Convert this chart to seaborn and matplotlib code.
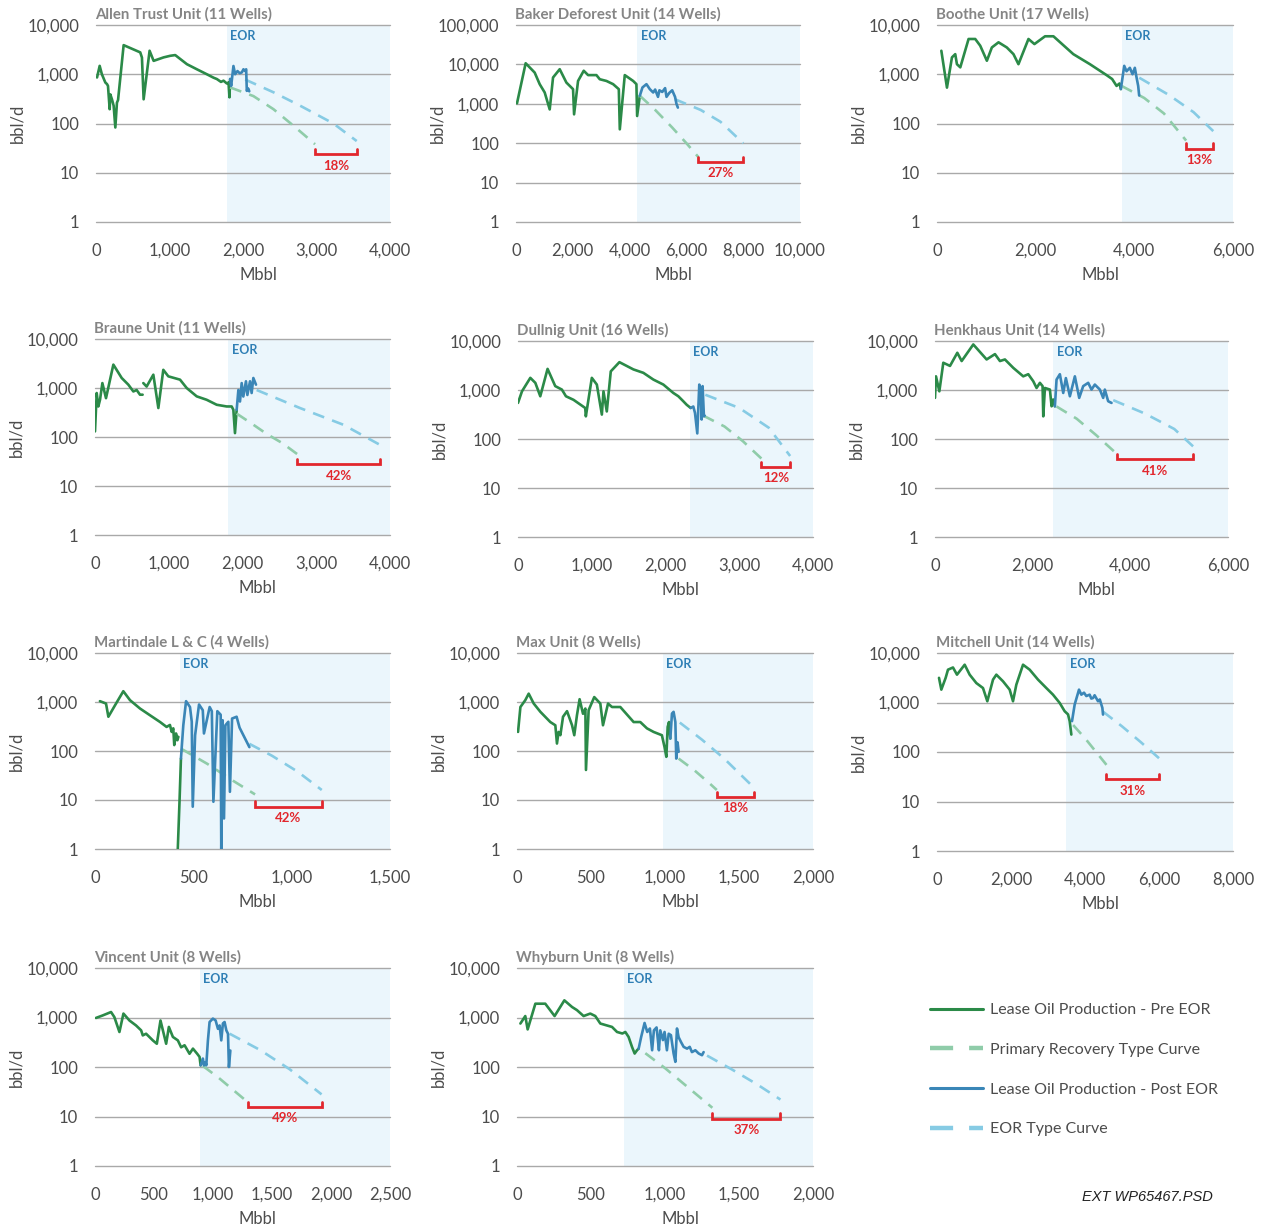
import numpy as np
import pandas as pd
import matplotlib
matplotlib.use("Agg")
import matplotlib.pyplot as plt
import seaborn as sns
from matplotlib.lines import Line2D
from matplotlib.ticker import NullLocator

sns.set_theme(style="white")
plt.rcParams['font.family'] = ['Lato', 'DejaVu Sans']

# ---------------------------------------------------------------- data
TITLES = ["Allen Trust Unit (11 Wells)", "Baker Deforest Unit (14 Wells)", "Boothe Unit (17 Wells)",
          "Braune Unit (11 Wells)", "Dullnig Unit (16 Wells)", "Henkhaus Unit (14 Wells)",
          "Martindale L & C (4 Wells)", "Max Unit (8 Wells)", "Mitchell Unit (14 Wells)",
          "Vincent Unit (8 Wells)", "Whyburn Unit (8 Wells)"]
X_MAX = [4000, 10000, 6000, 4000, 4000, 6000, 1500, 2000, 8000, 2500, 2000]
X_STEP = [1000, 2000, 2000, 1000, 1000, 2000, 500, 500, 2000, 500, 500]
Y_MAX = [1e4, 1e5, 1e4, 1e4, 1e4, 1e4, 1e4, 1e4, 1e4, 1e4, 1e4]
EOR_START = [1780, 4265, 3741, 1808, 2332, 2421, 432, 986, 3496, 886, 721]
UPLIFT = ["18%", "27%", "13%", "42%", "12%", "41%", "42%", "18%", "31%", "49%", "37%"]
BRACKET_Y = [23.6, 34, 31, 28, 27, 39, 7.3, 11.6, 28, 15.6, 9.1]

# (cumulative Mbbl, bbl/d); None breaks a line
ALLEN_PRE = [(14, 860), (50, 1480), (80, 1000), (127, 680), (150, 630), (163, 580), (186, 195), (195, 390),
             (217, 310), (240, 230), (263, 83), (285, 265), (300, 300), (376, 3900), (602, 2780), (625, 2180),
             (648, 310), (729, 3000), (784, 1870), (920, 2200), (1010, 2370), (1078, 2450), (1237, 1600),
             (1373, 1260), (1508, 1000), (1600, 850), (1644, 800), (1700, 700), (1735, 740), (1780, 650),
             (1803, 680), (1816, 340), (1825, 800)]
ALLEN_POST = [(1825, 800), (1839, 580), (1870, 1470), (1893, 1000), (1925, 1160), (1955, 1050), (1984, 1090),
              (2006, 1260), (2030, 1160), (2043, 1260), (2052, 460), (2065, 520), (2075, 500), (2085, 450)]
ALLEN_PRIMARY = [(1825, 540), (2142, 360), (2415, 195), (2687, 90), (2980, 38)]
ALLEN_EOR_TC = [(2030, 780), (2415, 430), (2777, 230), (3230, 100), (3547, 44)]

BAKER_PRE = [(35, 1030), (340, 10700), (658, 6200), (834, 3150), (1010, 1940), (1187, 720), (1304, 4650),
             (1539, 7550), (1774, 3460), (2009, 2350), (2045, 540), (2185, 3800), (2385, 6900), (2538, 5350),
             (2832, 5350), (2950, 4200), (3185, 3800), (3420, 3150), (3620, 2350), (3655, 225), (3830, 5350),
             (4125, 3800), (4240, 3150), (4265, 490), (4360, 1600)]
BAKER_POST = [(4360, 1600), (4453, 2600), (4594, 3150), (4712, 2350), (4830, 1940), (4900, 2300), (5000, 1500),
              (5050, 2200), (5150, 2000), (5250, 2500), (5300, 1500), (5400, 1900), (5500, 2200), (5600, 1500),
              (5650, 1000), (5700, 800)]
BAKER_PRIMARY = [(4360, 1600), (4900, 700), (5500, 250), (6000, 100), (6415, 45)]
BAKER_EOR_TC = [(5600, 1300), (6500, 700), (7200, 350), (8000, 100)]

BOOTHE_PRE = [(88, 3000), (202, 535), (303, 2200), (370, 2560), (404, 1600), (472, 1380), (640, 5200),
              (775, 5200), (876, 3800), (1011, 1880), (1112, 3500), (1247, 4450), (1415, 3500), (1550, 2560),
              (1651, 1600), (1719, 2380), (1854, 5200), (1975, 4100), (2190, 5900), (2360, 5900), (2763, 2560),
              (3100, 1600), (3437, 960), (3550, 800), (3640, 580), (3700, 650), (3727, 500)]
BOOTHE_POST = [(3727, 500), (3795, 1480), (3842, 1150), (3909, 1350), (3963, 1000), (4010, 1350), (4044, 870),
               (4078, 580), (4098, 370)]
BOOTHE_PRIMARY = [(3740, 580), (4200, 330), (4600, 160), (5050, 45)]
BOOTHE_EOR_TC = [(4100, 850), (4700, 380), (5200, 170), (5600, 70)]

BRAUNE_PRE = [(0, 130), (23, 790), (45, 420), (68, 575), (100, 1260), (149, 620), (249, 3000), (362, 1600),
              (452, 1170), (520, 850), (565, 910), (610, 730), (646, 730), None,
              (655, 1260), (700, 1070), (791, 1870), (859, 390), (926, 2350), (994, 1730), (1153, 1480),
              (1243, 1000), (1379, 675), (1514, 575), (1650, 455), (1785, 420), (1853, 420), (1876, 360),
              (1898, 120), (1921, 360)]
BRAUNE_POST = [(1921, 360), (1944, 910), (1966, 530), (1989, 1260), (2011, 670), (2047, 1370), (2066, 720),
               (2102, 1370), (2124, 790), (2147, 1600), (2183, 1170)]
BRAUNE_PRIMARY = [(1921, 300), (2120, 190), (2330, 115), (2540, 75), (2740, 45)]
BRAUNE_EOR_TC = [(2192, 910), (2780, 390), (3367, 178), (3865, 69)]

DULLNIG_PRE = [(0, 545), (54, 940), (167, 1770), (235, 1400), (302, 745), (401, 2700), (505, 1200), (595, 1020),
               (650, 745), (753, 630), (911, 430), (920, 290), (1001, 1770), (1069, 1290), (1137, 315),
               (1159, 940), (1204, 365), (1258, 2400), (1375, 3700), (1565, 2630), (1700, 2240), (1836, 1630),
               (1971, 1290), (2106, 870), (2174, 745), (2241, 590), (2287, 500), (2341, 430)]
DULLNIG_POST = [(2341, 430), (2377, 460), (2400, 340), (2431, 130), (2458, 1290), (2476, 1000), (2490, 250),
                (2503, 1200), (2521, 290), (2530, 300)]
DULLNIG_PRIMARY = [(2512, 300), (2800, 180), (3050, 90), (3300, 40)]
DULLNIG_EOR_TC = [(2540, 800), (3000, 430), (3400, 170), (3690, 45)]

HENKHAUS_PRE = [(0, 690), (20, 1900), (89, 940), (170, 3600), (307, 3100), (457, 5750), (546, 3900),
                (784, 8500), (1057, 4200), (1228, 5400), (1330, 3900), (1432, 4200), (1603, 2830), (1807, 1900),
                (1910, 2100), (2012, 1510), (2080, 1100), (2148, 1400), (2203, 1200), (2217, 290), (2251, 1100),
                (2353, 1020), (2387, 465), (2421, 640), (2455, 465)]
HENKHAUS_POST = [(2455, 465), (2489, 1630), (2557, 2100), (2626, 870), (2680, 1750), (2762, 745), (2864, 1900),
                 (2953, 690), (3035, 1200), (3137, 1400), (3205, 1020), (3273, 1290), (3376, 1020), (3444, 690),
                 (3478, 1020), (3546, 590), (3615, 545)]
HENKHAUS_PRIMARY = [(2490, 460), (2900, 260), (3300, 120), (3720, 50)]
HENKHAUS_EOR_TC = [(3650, 620), (4300, 330), (4900, 160), (5290, 70)]

MARTINDALE_PRE = [(25, 1040), (56, 930), (68, 500), (102, 860), (144, 1660), (178, 1090), (229, 735), (280, 535),
                  (331, 390), (364, 310), (381, 340), (390, 245), (398, 290), (403, 132), (412, 228), (419, 166),
                  (424, 195), None, (421, 1), (430, 10), (437, 70)]
MARTINDALE_POST = [(437, 70), (449, 335), (463, 1040), (483, 790), (492, 395), (497, 7.3), (509, 210), (529, 890),
                   (548, 680), (554, 228), (583, 790), (594, 650), (602, 9.2), (622, 650), (639, 550), (642, 1),
                   (649, 425), (656, 4.2), (663, 335), (678, 395), (686, 14.7), (697, 460), (720, 500), (735, 300),
                   (785, 120)]
MARTINDALE_PRIMARY = [(437, 112), (570, 55), (700, 25), (814, 13)]
MARTINDALE_EOR_TC = [(785, 140), (900, 80), (1030, 38), (1153, 16)]

MAX_PRE = [(7, 245), (23, 790), (56, 1090), (79, 1480), (113, 930), (158, 630), (225, 390), (259, 335), (270, 142),
           (281, 245), (293, 210), (311, 500), (338, 650), (372, 335), (387, 210), (405, 535), (423, 1140),
           (446, 575), (462, 735), (466, 41), (484, 680), (522, 1260), (563, 930), (581, 335), (615, 930),
           (642, 790), (698, 790), (788, 390), (833, 390), (878, 290), (923, 245), (979, 210), (997, 120),
           (1009, 76), (1018, 310), (1027, 390), (1036, 180)]
MAX_POST = [(1036, 180), (1047, 580), (1058, 630), (1070, 390), (1076, 70), (1085, 150), (1092, 96)]
MAX_PRIMARY = [(1092, 70), (1200, 40), (1300, 22), (1350, 16)]
MAX_EOR_TC = [(1100, 380), (1250, 170), (1400, 70), (1600, 18)]

MITCHELL_PRE = [(54, 3150), (117, 1820), (234, 3150), (297, 4600), (432, 5100), (540, 3650), (748, 5800),
                (883, 3650), (1063, 2470), (1243, 1960), (1360, 1060), (1514, 2900), (1604, 3650), (1784, 2680),
                (1964, 1820), (2054, 1060), (2144, 2290), (2325, 5800), (2505, 4600), (2730, 2900), (2955, 1960),
                (3135, 1440), (3316, 980), (3451, 665), (3541, 575), (3586, 420), (3631, 225)]
MITCHELL_POST = [(3649, 420), (3721, 910), (3838, 1820), (3901, 1440), (3973, 1580), (4036, 1350), (4126, 1440),
                 (4170, 1200), (4217, 1230), (4260, 1400), (4352, 1060), (4400, 1150), (4469, 780), (4487, 570)]
MITCHELL_PRIMARY = [(3680, 350), (4000, 190), (4300, 100), (4580, 55)]
MITCHELL_EOR_TC = [(4490, 650), (5000, 330), (5500, 160), (6000, 75)]

VINCENT_PRE = [(8, 980), (65, 1100), (136, 1290), (164, 1020), (207, 510), (241, 1200), (292, 870), (348, 690),
               (391, 550), (405, 435), (433, 470), (490, 345), (524, 295), (555, 870), (603, 295), (626, 645),
               (660, 405), (702, 345), (730, 250), (759, 275), (801, 185), (830, 235), (866, 185), (886, 160),
               (895, 108)]
VINCENT_POST = [(895, 108), (914, 148), (923, 108), (937, 125), (943, 108), (957, 345), (971, 810), (999, 950),
                (1022, 875), (1042, 590), (1056, 690), (1070, 345), (1084, 760), (1098, 810), (1113, 550),
                (1127, 470), (1135, 100), (1147, 215)]
VINCENT_PRIMARY = [(914, 105), (1050, 60), (1180, 33), (1300, 19)]
VINCENT_EOR_TC = [(1141, 470), (1400, 220), (1650, 90), (1920, 28)]

WHYBURN_PRE = [(23, 755), (56, 1070), (72, 575), (124, 1900), (191, 1900), (254, 1070), (320, 2220), (372, 1630),
               (405, 1410), (450, 1070), (495, 1200), (529, 1070), (563, 755), (608, 690), (642, 645), (676, 510),
               (712, 475), (732, 510), (754, 405), (777, 255), (795, 187), (811, 218), (822, 235)]
WHYBURN_POST = [(822, 235), (839, 405), (862, 775), (880, 510), (898, 600), (913, 218), (925, 550), (943, 630),
                (952, 350), (959, 218), (968, 550), (986, 350), (997, 510), (1013, 218), (1025, 470), (1040, 440),
                (1058, 188), (1070, 127), (1081, 600), (1092, 400), (1108, 320), (1126, 255), (1149, 235),
                (1167, 255), (1182, 200), (1205, 218), (1227, 188), (1250, 173), (1261, 200)]
WHYBURN_PRIMARY = [(867, 190), (1000, 95), (1150, 40), (1320, 15)]
WHYBURN_EOR_TC = [(1284, 170), (1450, 90), (1620, 45), (1780, 22)]

PRE = [ALLEN_PRE, BAKER_PRE, BOOTHE_PRE, BRAUNE_PRE, DULLNIG_PRE, HENKHAUS_PRE, MARTINDALE_PRE, MAX_PRE,
       MITCHELL_PRE, VINCENT_PRE, WHYBURN_PRE]
POST = [ALLEN_POST, BAKER_POST, BOOTHE_POST, BRAUNE_POST, DULLNIG_POST, HENKHAUS_POST, MARTINDALE_POST, MAX_POST,
        MITCHELL_POST, VINCENT_POST, WHYBURN_POST]
PRIMARY_TC = [ALLEN_PRIMARY, BAKER_PRIMARY, BOOTHE_PRIMARY, BRAUNE_PRIMARY, DULLNIG_PRIMARY, HENKHAUS_PRIMARY,
              MARTINDALE_PRIMARY, MAX_PRIMARY, MITCHELL_PRIMARY, VINCENT_PRIMARY, WHYBURN_PRIMARY]
EOR_TC = [ALLEN_EOR_TC, BAKER_EOR_TC, BOOTHE_EOR_TC, BRAUNE_EOR_TC, DULLNIG_EOR_TC, HENKHAUS_EOR_TC,
          MARTINDALE_EOR_TC, MAX_EOR_TC, MITCHELL_EOR_TC, VINCENT_EOR_TC, WHYBURN_EOR_TC]

LEGEND_LABELS = ["Lease Oil Production - Pre EOR", "Primary Recovery Type Curve",
                 "Lease Oil Production - Post EOR", "EOR Type Curve"]

# ---------------------------------------------------------------- style
GREEN = "#2b8a48"
BLUE = "#3a86b7"
GREEN_TC = "#8fcca9"
BLUE_TC = "#86cbe4"
SHADE = "#ebf6fc"
GRID = "#a9a9a9"
RED = "#e2272d"
TICK_COLOR = "#4c4c4c"
TITLE_COLOR = "#858585"
EOR_COLOR = "#2f7fb5"

W, H = 1263, 1228
# axes boxes in pixels: left, top, right, bottom
BOXES = [(96, 25, 390, 222), (516, 25, 800, 222), (937, 25, 1233, 222),
         (95, 339, 390, 535), (518, 341, 813, 537), (935, 341, 1228, 537),
         (95, 653, 390, 849), (517, 653, 813, 849), (937, 653, 1233, 851),
         (95, 968, 390, 1166), (517, 968, 813, 1166)]

fig = plt.figure(figsize=(W / 100, H / 100), dpi=100)
fig.patch.set_facecolor("white")


def segments(pairs):
    seg = []
    for p in pairs:
        if p is None:
            if seg:
                yield pd.DataFrame(seg, columns=["mbbl", "rate"])
            seg = []
        else:
            seg.append(p)
    if seg:
        yield pd.DataFrame(seg, columns=["mbbl", "rate"])


def draw(ax, pairs, color, dashed=False, lw=1.9):
    for df in segments(pairs):
        kws = dict(linestyle=(0, (4.5, 3.2))) if dashed else {}
        sns.lineplot(data=df, x="mbbl", y="rate", ax=ax, color=color, lw=lw, sort=False,
                     estimator=None, legend=False, solid_joinstyle="round", **kws)


def fmt(v):
    return f"{int(v):,}"


for i, (l, t, r, b) in enumerate(BOXES):
    ax = fig.add_axes([l / W, 1 - b / H, (r - l) / W, (b - t) / H])
    ax.set_facecolor("none")
    ax.set_yscale("log")
    xmax, ymax = X_MAX[i], Y_MAX[i]

    ax.fill_between([EOR_START[i], xmax], 1, ymax, color=SHADE, lw=0, zorder=0)
    decades = [10 ** k for k in range(int(np.log10(ymax)) + 1)]
    for d in decades:
        ax.axhline(d, color=GRID, lw=1.0, zorder=1, clip_on=False)

    draw(ax, PRE[i], GREEN)
    draw(ax, PRIMARY_TC[i], GREEN_TC, dashed=True)
    draw(ax, EOR_TC[i], BLUE_TC, dashed=True)
    draw(ax, POST[i], BLUE)

    # uplift bracket between type-curve end points
    x0, x1 = PRIMARY_TC[i][-1][0], EOR_TC[i][-1][0]
    yb = BRACKET_Y[i]
    ax.plot([x0, x0, x1, x1], [yb * 1.28, yb, yb, yb * 1.28], color=RED, lw=2.0,
            solid_joinstyle="miter", zorder=5)
    ax.annotate(UPLIFT[i], xy=((x0 + x1) / 2, yb), xytext=(0, -4), textcoords="offset points",
                ha="center", va="top", color=RED, fontsize=9.5, fontweight="bold")

    ax.annotate("EOR", xy=(EOR_START[i], ymax), xytext=(2.5, -3.5), textcoords="offset points",
                ha="left", va="top", color=EOR_COLOR, fontsize=9, fontweight="bold")
    ax.annotate(TITLES[i], xy=(0, 1), xycoords="axes fraction", xytext=(-1, 2.5),
                textcoords="offset points", ha="left", va="bottom", color=TITLE_COLOR,
                fontsize=10.8, fontweight="bold")

    ax.set_xlim(0, xmax)
    ax.set_ylim(1, ymax)
    xt = np.arange(0, xmax + 1, X_STEP[i])
    ax.set_xticks(xt)
    ax.set_xticklabels([fmt(v) for v in xt])
    ax.set_yticks(decades)
    ax.set_yticklabels([fmt(v) for v in decades])
    ax.yaxis.set_minor_locator(NullLocator())
    ax.tick_params(axis="both", length=0, labelsize=12, labelcolor=TICK_COLOR)
    ax.tick_params(axis="x", pad=15)
    ax.tick_params(axis="y", pad=12)
    for s in ax.spines.values():
        s.set_visible(False)
    ax.set_xlabel("")
    ax.set_ylabel("")

    fig.text((l - 79) / W, 1 - ((t + b) / 2) / H, "bbl/d", rotation=90, ha="center", va="center",
             fontsize=12, color=TICK_COLOR)
    fig.text(((l + r) / 2 + 15) / W, 1 - (b + 53) / H, "Mbbl", ha="center", va="center",
             fontsize=12, color=TICK_COLOR)

# legend
handles = [Line2D([], [], color=GREEN, lw=2.2),
           Line2D([], [], color=GREEN_TC, lw=3.2, linestyle=(0, (5.2, 3.6))),
           Line2D([], [], color=BLUE, lw=2.2),
           Line2D([], [], color=BLUE_TC, lw=3.2, linestyle=(0, (5.2, 3.6)))]
leg = fig.legend(handles, LEGEND_LABELS, loc="upper left", bbox_to_anchor=(930 / W, 1 - 1003 / H),
                 frameon=False, fontsize=11.5, handlelength=3.3, handletextpad=0.45,
                 labelspacing=1.6, borderpad=0, borderaxespad=0)
for txt in leg.get_texts():
    txt.set_color(TICK_COLOR)

fig.text(1213 / W, 1 - 1197 / H, "EXT WP65467.PSD", ha="right", va="center", fontsize=10.5,
         fontstyle="italic", color="#222222", family=["Liberation Sans", "DejaVu Sans"])

fig.savefig("out.png", dpi=100, facecolor="white")
